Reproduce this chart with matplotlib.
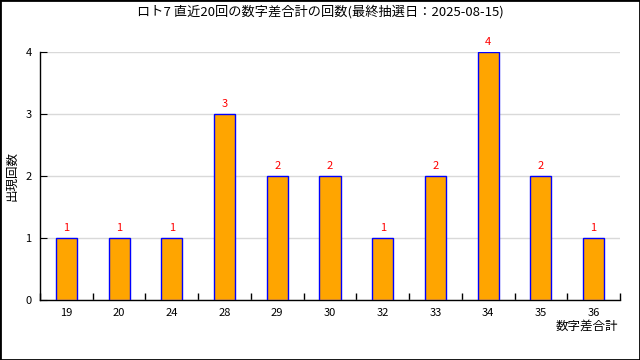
import matplotlib
matplotlib.use("Agg")
import matplotlib.pyplot as plt
from matplotlib.patches import Rectangle
import numpy as np

plt.rcParams['font.family'] = ['Noto Sans CJK JP', 'DejaVu Sans']

categories = ["19", "20", "24", "28", "29", "30", "32", "33", "34", "35", "36"]
counts = [1, 1, 1, 3, 2, 2, 1, 2, 4, 2, 1]
title = "ロト7 直近20回の数字差合計の回数(最終抽選日：2025-08-15)"

fig = plt.figure(figsize=(6.4, 3.6), dpi=100)
ax = fig.add_axes([40/640, 60/360, 580/640, 248/360])

x = np.arange(len(categories))
ax.bar(x, counts, width=0.4, color="#FFA500", edgecolor="#0000FF", linewidth=1, zorder=3)
for xi, c in zip(x, counts):
    ax.text(xi, c + 0.08, str(c), color="red", ha="center", va="bottom", fontsize=8)

ax.set_xlim(-0.5, len(categories) - 0.5)
ax.set_ylim(0, 4)
ax.set_yticks([0, 1, 2, 3, 4])
ax.yaxis.grid(True, color="#d9d9d9", linewidth=1, zorder=0)
ax.set_xticks(x)
ax.set_xticklabels(categories, fontsize=8)
ax.tick_params(axis="x", which="major", length=0, pad=6)
ax.set_xticks(np.arange(-0.5, len(categories)), minor=True)
ax.tick_params(axis="x", which="minor", direction="in", length=5, width=1)
ax.tick_params(axis="y", direction="in", length=5, labelsize=8, pad=6)
for s in ["top", "right"]:
    ax.spines[s].set_visible(False)
ax.spines["left"].set_linewidth(1)
ax.spines["bottom"].set_linewidth(1)

fig.text(12/640, 1 - 176/360, "出現回数", rotation=90, ha="center", va="center", fontsize=9)
fig.text(618/640, 1 - 326/360, "数字差合計", ha="right", va="center", fontsize=9)
fig.text(0.5, 1 - 12/360, title, ha="center", va="center", fontsize=9.5)

fig.add_artist(Rectangle((0, 0), 1, 1, transform=fig.transFigure, fill=False,
                         edgecolor="black", linewidth=2))

fig.savefig("out.png", dpi=100)
